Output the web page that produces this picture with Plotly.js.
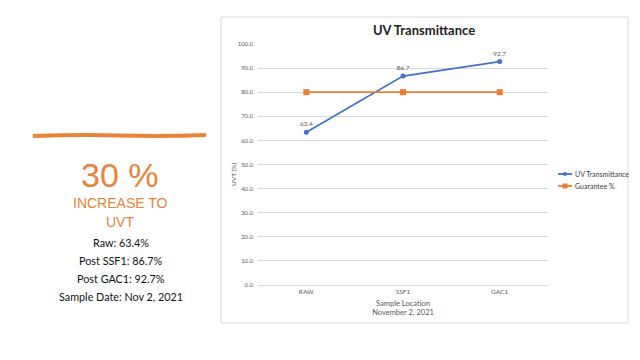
<!DOCTYPE html>
<html><head><meta charset="utf-8">
<script src="https://cdn.plot.ly/plotly-3.0.1.min.js"></script>
<style>html,body{margin:0;padding:0;background:#fff;}#c{width:640px;height:360px;}</style>
</head><body><div id="c"></div>
<script>
const categories = ["RAW", "SSF1", "GAC1"];
const uvt = [63.4, 86.7, 92.7];
const guarantee = [80, 80, 80];
const yTicks = [0,10,20,30,40,50,60,70,80,90,100];
const seriesNames = ["UV Transmittance", "Guarantee %"];
const seriesColors = ["#4472C4", "#ED7D31"];
const summaryLines = ["Raw: 63.4%", "Post SSF1: 86.7%", "Post GAC1: 92.7%", "Sample Date: Nov 2, 2021"];

// pixel -> paper helpers (plot area 258..548 x, 44..285 y)
const L = 258, R = 548, T = 44, B = 285;
const px = x => (x - L) / (R - L);
const py = y => (B - y) / (B - T);

const traces = [
  {x: categories, y: uvt, name: seriesNames[0], mode: "lines+markers+text",
   text: uvt.map(v => v.toFixed(1)), textposition: "top center",
   textfont: {size: 6.5, color: "#595959", family: "Lato, sans-serif"},
   line: {color: seriesColors[0], width: 1.8}, marker: {color: seriesColors[0], size: 5, symbol: "circle"}},
  {x: categories, y: guarantee, name: seriesNames[1], mode: "lines+markers",
   line: {color: seriesColors[1], width: 1.8}, marker: {color: seriesColors[1], size: 6, symbol: "square"}}
];

const annotations = [
  {xref: "paper", yref: "paper", x: px(120), y: py(175), text: "30 %", showarrow: false,
   font: {size: 34, color: "#E8833A", family: "Liberation Sans, Arial, sans-serif"}, xanchor: "center", yanchor: "middle"},
  {xref: "paper", yref: "paper", x: px(120), y: py(203), text: "INCREASE TO", showarrow: false,
   font: {size: 14, color: "#E8833A", family: "Liberation Sans, Arial, sans-serif"}, xanchor: "center", yanchor: "middle"},
  {xref: "paper", yref: "paper", x: px(120), y: py(222), text: "UVT", showarrow: false,
   font: {size: 14, color: "#E8833A", family: "Liberation Sans, Arial, sans-serif"}, xanchor: "center", yanchor: "middle"},
  {xref: "paper", yref: "paper", x: px(233), y: py(175), text: "UVT (%)", showarrow: false, textangle: -90,
   font: {size: 6.5, color: "#595959", family: "Lato, sans-serif"}, xanchor: "center", yanchor: "middle"}
];
summaryLines.forEach((t, i) => {
  annotations.push({xref: "paper", yref: "paper", x: px(121), y: py(242 + i * 18), text: t, showarrow: false,
    font: {size: 10.8, color: "#111", family: "Lato, sans-serif"}, xanchor: "center", yanchor: "middle"});
});

const shapes = [
  {type: "rect", xref: "paper", yref: "paper", x0: px(221), x1: px(628), y0: py(323), y1: py(17),
   line: {color: "#d9d9d9", width: 1}, fillcolor: "rgba(0,0,0,0)", layer: "below"},
  {type: "path", xref: "paper", yref: "paper",
   path: `M ${px(33)} ${py(136)} Q ${px(80)} ${py(134.5)} ${px(120)} ${py(135.5)} T ${px(206)} ${py(135)}`,
   line: {color: "#E8833A", width: 4}}
];

// manual compact legend (as in the reference)
seriesNames.forEach((name, i) => {
  const yy = 174 + i * 12;
  shapes.push({type: "line", xref: "paper", yref: "paper", x0: px(558), x1: px(572), y0: py(yy), y1: py(yy),
    line: {color: seriesColors[i], width: 1.8}});
  if (i === 0) {
    shapes.push({type: "circle", xref: "paper", yref: "paper", x0: px(563), x1: px(567), y0: py(yy + 2), y1: py(yy - 2),
      fillcolor: seriesColors[i], line: {width: 0}});
  } else {
    shapes.push({type: "rect", xref: "paper", yref: "paper", x0: px(562.5), x1: px(567.5), y0: py(yy + 2.5), y1: py(yy - 2.5),
      fillcolor: seriesColors[i], line: {width: 0}});
  }
  annotations.push({xref: "paper", yref: "paper", x: px(573), y: py(yy), text: name, showarrow: false,
    font: {size: 7, color: "#404040", family: "Lato, sans-serif"}, xanchor: "left", yanchor: "middle"});
});

const layout = {
  width: 640, height: 360,
  margin: {l: L, r: 640 - R, t: T, b: 360 - B, pad: 0, autoexpand: false},
  paper_bgcolor: "#fff", plot_bgcolor: "#fff",
  font: {family: "Lato, sans-serif", color: "#595959"},
  title: {text: "<b>UV Transmittance</b>", x: 424 / 640, xanchor: "center", y: 1 - 30/360, yanchor: "middle",
          font: {size: 13, color: "#222", family: "Lato, sans-serif"}},
  xaxis: {type: "category", range: [-0.5, 2.5], showgrid: false, showline: true, linecolor: "#d9d9d9",
          ticks: "", tickfont: {size: 6.5, color: "#595959"}, automargin: false,
          title: {text: "Sample Location<br>November 2, 2021", font: {size: 7.5, color: "#595959"}, standoff: 6}},
  yaxis: {range: [0, 100], tickvals: yTicks, tickformat: ".1f", showgrid: true, gridcolor: "#d9d9d9", gridwidth: 1,
          zeroline: false, showline: false, ticks: "", tickfont: {size: 6, color: "#595959"}, ticklabelstandoff: 4,
          automargin: false},
  showlegend: false,
  annotations: annotations,
  shapes: shapes
};

Plotly.newPlot("c", traces, layout, {displayModeBar: false, staticPlot: true});
</script></body></html>
